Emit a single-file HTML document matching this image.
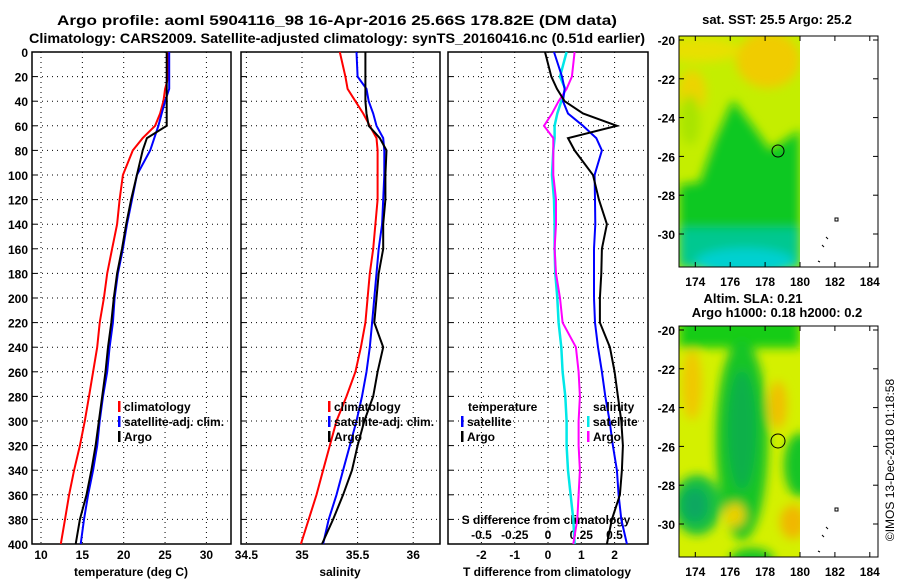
<!DOCTYPE html>
<html><head><meta charset="utf-8"><style>
html,body{margin:0;padding:0;background:#fff;}
svg{display:block;font-family:"Liberation Sans",sans-serif;font-weight:bold;}
</style></head><body>
<svg id="fig" width="900" height="580" viewBox="0 0 900 580" xmlns="http://www.w3.org/2000/svg">
<defs>
<filter id="bl" x="-20%" y="-20%" width="140%" height="140%"><feGaussianBlur stdDeviation="5"/></filter>
<clipPath id="c1"><rect x="679" y="36" width="121" height="231"/></clipPath>
<clipPath id="c2"><rect x="679" y="326" width="121" height="231"/></clipPath>
</defs>
<text x="337" y="25" font-size="14" text-anchor="middle" textLength="560" lengthAdjust="spacingAndGlyphs">Argo profile: aoml 5904116_98 16-Apr-2016 25.66S 178.82E (DM data)</text>
<text x="337" y="43" font-size="14" text-anchor="middle" textLength="616" lengthAdjust="spacingAndGlyphs">Climatology: CARS2009. Satellite-adjusted climatology: synTS_20160416.nc (0.51d earlier)</text>
<g id="plots"></g>

<!-- SST map -->
<g>
<text x="777" y="24" font-size="13" text-anchor="middle">sat. SST: 25.5 Argo: 25.2</text>
<g clip-path="url(#c1)">
<rect x="679" y="36" width="121" height="231" fill="#c4ee00"/>
<g filter="url(#bl)">
<ellipse cx="768" cy="60" rx="32" ry="28" fill="#f0cc00"/>
<ellipse cx="700" cy="50" rx="40" ry="12" fill="#e8e000"/>
<ellipse cx="692" cy="92" rx="14" ry="22" fill="#ecd400"/>
<path d="M679 185 L700 182 L715 140 L733 100 L752 125 L770 150 L800 130 L800 267 L679 267 Z" fill="#10c820"/>
<rect x="679" y="228" width="121" height="40" fill="#00c890"/>
<ellipse cx="745" cy="262" rx="50" ry="14" fill="#00d0d0"/>
<ellipse cx="690" cy="120" rx="10" ry="25" fill="#a8e400"/>
</g>
</g>
<rect x="679" y="36" width="199" height="231" fill="none" stroke="#000" stroke-width="1"/>
<circle cx="778" cy="151" r="6" fill="none" stroke="#000" stroke-width="1"/>
<g fill="none" stroke="#000" stroke-width="1"><rect x="835" y="218" width="3" height="3"/><path d="M826 237 l2 2 M822 245 l2 2 M818 261 l2 1"/></g>
<g id="m1ax"></g>
</g>

<!-- SLA map -->
<g>
<text x="753" y="303" font-size="13" text-anchor="middle">Altim. SLA: 0.21</text>
<text x="777" y="317" font-size="13" text-anchor="middle">Argo h1000: 0.18 h2000: 0.2</text>
<g clip-path="url(#c2)">
<rect x="679" y="326" width="121" height="231" fill="#d4f000"/>
<g filter="url(#bl)">
<rect x="679" y="318" width="121" height="30" fill="#18cc18"/>
<ellipse cx="742" cy="440" rx="26" ry="100" fill="#18c428"/>
<ellipse cx="742" cy="430" rx="14" ry="60" fill="#10b048"/>
<ellipse cx="800" cy="465" rx="16" ry="32" fill="#18c428"/>
<ellipse cx="697" cy="505" rx="24" ry="30" fill="#18c040"/>
<ellipse cx="695" cy="505" rx="13" ry="17" fill="#10a860"/>
<ellipse cx="752" cy="560" rx="22" ry="12" fill="#18c428"/>
<ellipse cx="692" cy="385" rx="10" ry="35" fill="#f0c800"/>
<ellipse cx="778" cy="405" rx="9" ry="24" fill="#f0c000"/>
<ellipse cx="793" cy="522" rx="13" ry="17" fill="#f0b800"/>
<ellipse cx="735" cy="515" rx="10" ry="12" fill="#ecd000"/>
</g>
</g>
<rect x="679" y="326" width="199" height="231" fill="none" stroke="#000" stroke-width="1"/>
<circle cx="778" cy="441" r="7" fill="none" stroke="#000" stroke-width="1"/>
<g fill="none" stroke="#000" stroke-width="1"><rect x="835" y="508" width="3" height="3"/><path d="M826 527 l2 2 M822 535 l2 2 M818 551 l2 1"/></g>
<g id="m2ax"></g>
</g>
<text transform="translate(894,460) rotate(-90)" font-size="12" font-weight="normal" text-anchor="middle">©IMOS 13-Dec-2018 01:18:58</text>
</svg>
<script>
// depth grid (m)
const depths=[0,20,30,40,50,60,70,80,100,120,140,160,180,200,220,240,260,280,300,320,340,360,380,400];
// panel 1 temperature (deg C)
const tempClim=[25.4,25.4,25.0,24.8,24.4,23.8,22.3,21.1,19.9,19.5,19.2,18.6,18.0,17.6,17.1,16.8,16.3,15.8,15.3,14.7,14.0,13.4,12.9,12.4];
const tempSat=[25.5,25.5,25.5,25.0,24.6,24.2,23.7,23.2,21.6,21.0,20.4,19.9,19.3,18.9,18.7,18.3,18.0,17.5,17.1,16.8,16.3,15.7,15.2,14.8];
const tempArgo=[25.2,25.2,25.2,25.2,25.2,25.2,22.8,22.3,21.6,20.9,20.3,19.8,19.2,18.8,18.5,18.1,17.8,17.4,17.0,16.6,16.1,15.5,14.7,14.2];
// panel 2 salinity
const salClim=[35.34,35.39,35.41,35.48,35.55,35.61,35.67,35.68,35.68,35.68,35.66,35.64,35.61,35.59,35.57,35.53,35.48,35.40,35.31,35.25,35.19,35.13,35.06,34.99];
const salSat=[35.49,35.50,35.58,35.60,35.64,35.67,35.73,35.74,35.74,35.73,35.72,35.69,35.67,35.65,35.63,35.61,35.58,35.54,35.49,35.43,35.37,35.31,35.24,35.19];
const salArgo=[35.57,35.57,35.57,35.57,35.58,35.60,35.70,35.76,35.75,35.75,35.73,35.73,35.69,35.67,35.65,35.73,35.68,35.64,35.56,35.50,35.45,35.37,35.28,35.18];
// panel 3 differences
const tDiffSat=[0.18,0.42,0.5,0.45,0.6,1.05,1.45,1.62,1.4,1.41,1.42,1.38,1.38,1.38,1.41,1.5,1.62,1.72,1.85,1.95,2.07,2.12,2.2,2.37];
const tDiffArgo=[-0.09,0.1,0.27,0.5,1.05,2.07,0.6,0.8,1.35,1.53,1.77,1.62,1.6,1.56,1.56,1.86,2.0,2.1,2.2,2.25,2.22,2.16,1.92,1.77];
const sDiffSat=[0.14,0.09,0.13,0.1,0.07,0.05,0.05,0.04,0.03,0.045,0.05,0.05,0.055,0.07,0.08,0.1,0.11,0.13,0.14,0.14,0.15,0.17,0.19,0.2];
const sDiffArgo=[0.2,0.18,0.14,0.08,0.03,-0.03,0.04,0.04,0.04,0.06,0.06,0.05,0.06,0.09,0.11,0.21,0.23,0.24,0.23,0.23,0.24,0.23,0.22,0.19];
const depthTicks=[0,20,40,60,80,100,120,140,160,180,200,220,240,260,280,300,320,340,360,380,400];
const tTicks=[10,15,20,25,30];
const sTicks=[34.5,35,35.5,36];
const dTTicks=[-2,-1,0,1,2];
const dSTicks=[-0.5,-0.25,0,0.25,0.5];
const latTicks=[-20,-22,-24,-26,-28,-30];
const lonTicks=[174,176,178,180,182,184];

const NS='http://www.w3.org/2000/svg';
const G=document.getElementById('plots');
function mk(tag,at,parent){const e=document.createElementNS(NS,tag);for(const k in at)e.setAttribute(k,at[k]);(parent||G).appendChild(e);return e;}
const Y0=52,Y1=544;
const yD=d=>Y0+d*(Y1-Y0)/400;
const xT=t=>41+(t-10)*8.27;
const xS=s=>302+(s-35)*111.2;
const xDT=v=>548+v*33.3;
const xDS=v=>548+v*133;
function txt(x,y,s,anchor,size,name){const t=mk('text',{x:x,y:y,'font-size':size||12,'text-anchor':anchor||'middle'});t.textContent=s;


return t;}
function grid(x0,x1,xs){
 depthTicks.forEach(d=>{if(d>0&&d<400){const l=mk('line',{x1:x0,x2:x1,y1:yD(d),y2:yD(d),stroke:'#000','stroke-dasharray':'1 4'});
 
 }
 mk('line',{x1:x0,x2:x0+5,y1:yD(d),y2:yD(d),stroke:'#000'});});
 xs.forEach(x=>{const l=mk('line',{x1:x,x2:x,y1:Y0,y2:Y1,stroke:'#000','stroke-dasharray':'1 4'});
 
 });
 const r=mk('rect',{x:x0,y:Y0,width:x1-x0,height:Y1-Y0,fill:'none',stroke:'#000','stroke-width':1.5});
 
 
}
function line(vals,fx,color,w,name){
 const pts=vals.map((v,i)=>fx(v).toFixed(1)+','+yD(depths[i]).toFixed(1)).join(' ');
 const p=mk('polyline',{points:pts,fill:'none',stroke:color,'stroke-width':w||2});
 
 
}
function legend(x,y,items,name){items.forEach((it,i)=>{
 const b=mk('rect',{x:x,y:y+i*15-10,width:2.5,height:11,fill:it[1]});
 
 
 txt(x+6,y+i*15,it[0],'start',12,name+'-entry');});}

// panel 1
grid(32,231,tTicks.map(xT));
depthTicks.forEach(d=>txt(28,yD(d)+5,String(d),'end',12,'y-tick-label'));
tTicks.forEach(t=>txt(xT(t),559,String(t),'middle',12,'x-tick-label'));
txt(131,576,'temperature (deg C)','middle',12,'x-axis-title-temperature');
line(tempClim,xT,'#ff0000',2,'temp-climatology-line');
line(tempSat,xT,'#0000ff',2,'temp-satellite-line');
line(tempArgo,xT,'#000',2,'temp-argo-line');
legend(118,411,[['climatology','#ff0000'],['satellite-adj. clim.','#0000ff'],['Argo','#000']],'legend-temp');
// panel 2
grid(241,440,sTicks.map(xS));
sTicks.forEach(s=>txt(xS(s),559,String(s),'middle',12,'x-tick-label'));
txt(340,576,'salinity','middle',12,'x-axis-title-salinity');
line(salClim,xS,'#ff0000',2,'sal-climatology-line');
line(salSat,xS,'#0000ff',2,'sal-satellite-line');
line(salArgo,xS,'#000',2,'sal-argo-line');
legend(328,411,[['climatology','#ff0000'],['satellite-adj. clim.','#0000ff'],['Argo','#000']],'legend-sal');
// panel 3
grid(448,648,dTTicks.map(xDT));
dTTicks.forEach(v=>txt(xDT(v),559,String(v),'middle',12,'x-tick-label'));
dSTicks.forEach(v=>txt(xDS(v),539,String(v),'middle',12,'s-tick-label'));
txt(546,524,'S difference from climatology','middle',12,'s-axis-title');
txt(547,576,'T difference from climatology','middle',12,'t-axis-title');
line(sDiffSat,xDS,'#00e8e8',2.5,'s-diff-satellite-line');
line(sDiffArgo,xDS,'#ff00ff',2,'s-diff-argo-line');
line(tDiffSat,xDT,'#0000ff',2,'t-diff-satellite-line');
line(tDiffArgo,xDT,'#000',2,'t-diff-argo-line');
txt(468,411,'temperature','start',12,'legend-temperature-heading');
legend(461,426,[['satellite','#0000ff'],['Argo','#000']],'legend-tdiff');
txt(593,411,'salinity','start',12,'legend-salinity-heading');
legend(587,426,[['satellite','#00e8e8'],['Argo','#ff00ff']],'legend-sdiff');

// map axes
function mapAxes(gid,top){
 const g=document.getElementById(gid);
 const lx=v=>800+(v-180)*17.45, ly=v=>top+4+(-20-v)*19.4;
 latTicks.forEach(v=>{mk('line',{x1:679,x2:684,y1:ly(v),y2:ly(v),stroke:'#000'},g);mk('line',{x1:873,x2:878,y1:ly(v),y2:ly(v),stroke:'#000'},g);
 const t=mk('text',{x:675,y:ly(v)+5,'font-size':12,'text-anchor':'end'},g);t.textContent=String(v);
 
 });
 lonTicks.forEach(v=>{mk('line',{x1:lx(v),x2:lx(v),y1:top+231,y2:top+226,stroke:'#000'},g);mk('line',{x1:lx(v),x2:lx(v),y1:top,y2:top+5,stroke:'#000'},g);
 const t=mk('text',{x:lx(v),y:top+250,'font-size':12,'text-anchor':'middle'},g);t.textContent=String(v);
 
 });
}
mapAxes('m1ax',36);mapAxes('m2ax',326);
</script>
</body></html>
